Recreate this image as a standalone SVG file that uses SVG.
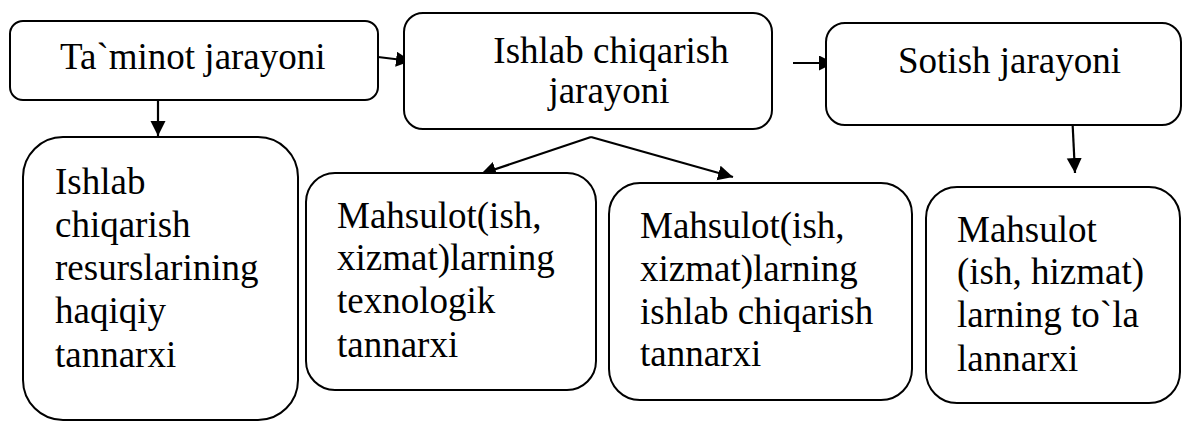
<svg xmlns="http://www.w3.org/2000/svg" width="1183" height="421" viewBox="0 0 1183 421">
<style>
  .box { fill: #ffffff; stroke: #000000; stroke-width: 2; }
  .t { font-family: "Liberation Serif", "Times New Roman", serif; font-size: 37px; fill: #000000; }
  .c { text-anchor: middle; }
  .conn { stroke: #000000; stroke-width: 2.2; fill: none; marker-end: url(#ah); }
</style>
<defs>
  <marker id="ah" markerUnits="userSpaceOnUse" markerWidth="16" markerHeight="16" viewBox="0 0 16 16" refX="15" refY="7.5" orient="auto">
    <path d="M0,0 L15,7.5 L0,15 z" fill="#000000"/>
  </marker>
</defs>
<rect width="1183" height="421" fill="#ffffff"/>

<g id="connectors">
  <line class="conn" x1="378" y1="57" x2="411" y2="61"/>
  <line class="conn" x1="793" y1="63" x2="834" y2="63"/>
  <line class="conn" x1="158" y1="100" x2="158" y2="136"/>
  <line class="conn" x1="591" y1="137" x2="481" y2="174"/>
  <line class="conn" x1="591" y1="137" x2="733" y2="177"/>
  <line class="conn" x1="1072.5" y1="122" x2="1075" y2="173"/>
</g>

<g id="n1">
  <rect class="box" x="10" y="21" width="368" height="79" rx="13" ry="13"/>
  <text class="t" x="60" y="69">Ta`minot jarayoni</text>
</g>

<g id="n2">
  <rect class="box" x="404" y="13" width="368" height="116" rx="19" ry="19"/>
  <text class="t c" x="611" y="63">Ishlab chiqarish</text>
  <text class="t c" x="609" y="103">jarayoni</text>
</g>

<g id="n3">
  <rect class="box" x="826" y="23" width="355" height="102" rx="19" ry="19"/>
  <text class="t" x="898" y="73">Sotish jarayoni</text>
</g>

<g id="n4">
  <rect class="box" x="23" y="137" width="275" height="283" rx="40" ry="40"/>
  <text class="t" x="55" y="194">Ishlab</text>
  <text class="t" x="55" y="237">chiqarish</text>
  <text class="t" x="55" y="280">resurslarining</text>
  <text class="t" x="55" y="323">haqiqiy</text>
  <text class="t" x="55" y="367">tannarxi</text>
</g>

<g id="n5">
  <rect class="box" x="306" y="173" width="290" height="217" rx="29" ry="29"/>
  <text class="t" x="337" y="228">Mahsulot(ish,</text>
  <text class="t" x="337" y="270">xizmat)larning</text>
  <text class="t" x="337" y="313">texnologik</text>
  <text class="t" x="337" y="357">tannarxi</text>
</g>

<g id="n6">
  <rect class="box" x="609" y="183" width="303" height="217" rx="31" ry="31"/>
  <text class="t" x="640" y="238">Mahsulot(ish,</text>
  <text class="t" x="640" y="281">xizmat)larning</text>
  <text class="t" x="640" y="324">ishlab chiqarish</text>
  <text class="t" x="640" y="366">tannarxi</text>
</g>

<g id="n7">
  <rect class="box" x="926" y="187" width="254" height="216" rx="31" ry="31"/>
  <text class="t" x="957" y="242">Mahsulot</text>
  <text class="t" x="957" y="284">(ish, hizmat)</text>
  <text class="t" x="957" y="327">larning to`la</text>
  <text class="t" x="957" y="371">lannarxi</text>
</g>
</svg>
